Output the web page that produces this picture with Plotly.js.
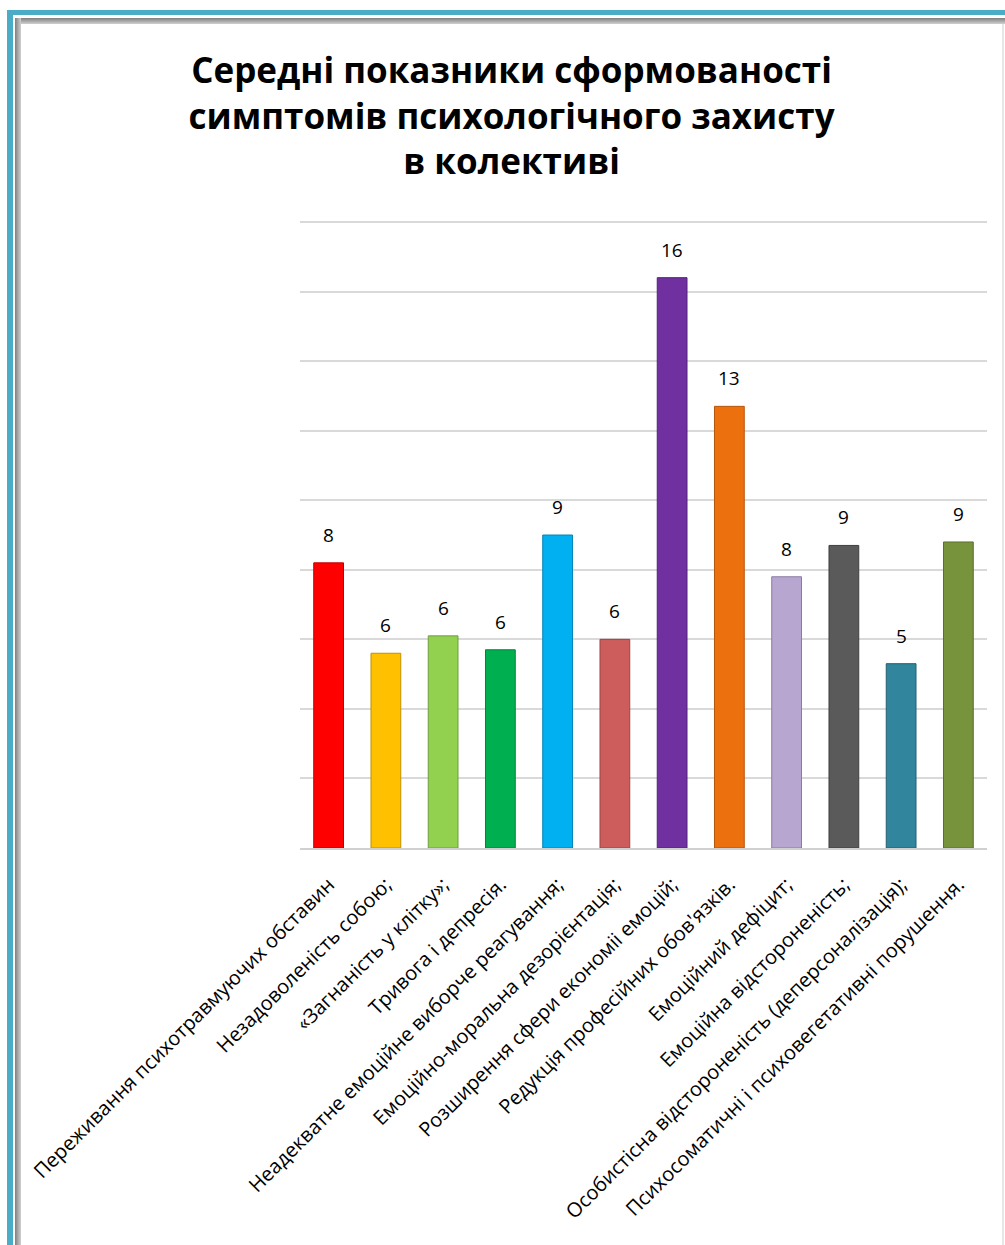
<!DOCTYPE html>
<html>
<head>
<meta charset="utf-8">
<script src="https://cdn.plot.ly/plotly-3.0.1.min.js"></script>
<style>
  html, body { margin: 0; padding: 0; background: #ffffff; }
  #wrap { position: relative; width: 1005px; height: 1245px; overflow: hidden; }
  #chart { position: absolute; left: 0; top: 0; width: 1005px; height: 1245px; }
  .frame { position: absolute; pointer-events: none; }
</style>
</head>
<body>
<div id="wrap">
  <div id="chart"></div>
  <div class="frame" style="left:7px; top:10px; width:998px; height:5px; background:#4bacc6;"></div>
  <div class="frame" style="left:7px; top:10px; width:6px; height:1235px; background:#4bacc6;"></div>
  <div class="frame" style="left:15px; top:18px; width:990px; height:6px; background:linear-gradient(#7f7f7f,#d0d0d0);"></div>
  <div class="frame" style="left:15px; top:18px; width:6px; height:1227px; background:linear-gradient(90deg,#7f7f7f,#d0d0d0);"></div>
  <div class="frame" style="left:1002px; top:24px; width:2px; height:1221px; background:#e6e6e6;"></div>
</div>
<script>
const categories = [
  "Переживання психотравмуючих обставин",
  "Незадоволеність собою;",
  "«Загнаність у клітку»;",
  "Тривога і депресія.",
  "Неадекватне емоційне виборче реагування;",
  "Емоційно-моральна дезорієнтація;",
  "Розширення сфери економіі емоцій;",
  "Редукція професійних обов'язків.",
  "Емоційний дефіцит;",
  "Емоційна відстороненість;",
  "Особистісна відстороненість (деперсоналізація);",
  "Психосоматичні і психовегетативні порушення."
];
const values = [8.2, 5.6, 6.1, 5.7, 9.0, 6.0, 16.4, 12.7, 7.8, 8.7, 5.3, 8.8];
const valueLabels = ["8", "6", "6", "6", "9", "6", "16", "13", "8", "9", "5", "9"];
const barColors = ["#ff0000", "#ffc000", "#92d050", "#00b050", "#00b0f0", "#cd5c5c",
                   "#7030a0", "#ed700f", "#b7a6d0", "#5a5a5a", "#31859c", "#77933c"];
const barEdges = ["#c00000", "#c09000", "#6f9f3c", "#00843c", "#0086b8", "#9c4444",
                  "#52237a", "#b4550b", "#8a7ca0", "#3f3f3f", "#245f70", "#5a6f2d"];

const titleText = "Середні показники сформованості<br>симптомів психологічного захисту<br>в колективі";

const trace = {
  type: "bar",
  x: categories,
  y: values,
  marker: { color: barColors, line: { color: barEdges, width: 1 } },
  width: 0.52,
  hoverinfo: "x+y"
};

const annotations = categories.map((c, i) => ({
  x: c, y: values[i], xref: "x", yref: "y",
  text: valueLabels[i], showarrow: false,
  yanchor: "bottom", yshift: 13,
  font: { family: "Open Sans, sans-serif", size: 19, color: "#000000" }
}));

const layout = {
  width: 1005, height: 1245,
  paper_bgcolor: "#ffffff", plot_bgcolor: "#ffffff",
  margin: { l: 300, r: 18, t: 221, b: 397, pad: 0 },
  showlegend: false,
  title: {
    text: titleText,
    x: 0.509, xanchor: "center",
    y: 1 - 83 / 1245, yanchor: "top", yref: "container",
    font: { family: "Open Sans, sans-serif", size: 35, color: "#000000", weight: "bold" }
  },
  xaxis: {
    type: "category",
    tickangle: -45,
    automargin: false,
    showgrid: false,
    showline: true, linecolor: "#d0d0d0", linewidth: 2,
    ticks: "",
    ticklabelstandoff: 15,
    tickfont: { family: "Open Sans, sans-serif", size: 20, color: "#000000" }
  },
  yaxis: {
    range: [0, 18.03],
    dtick: 2,
    showgrid: true, gridcolor: "#d9d9d9", gridwidth: 2,
    showticklabels: false,
    zeroline: false,
    automargin: false
  },
  annotations: annotations
};

Plotly.newPlot("chart", [trace], layout, { displayModeBar: false, staticPlot: true });
</script>
</body>
</html>
